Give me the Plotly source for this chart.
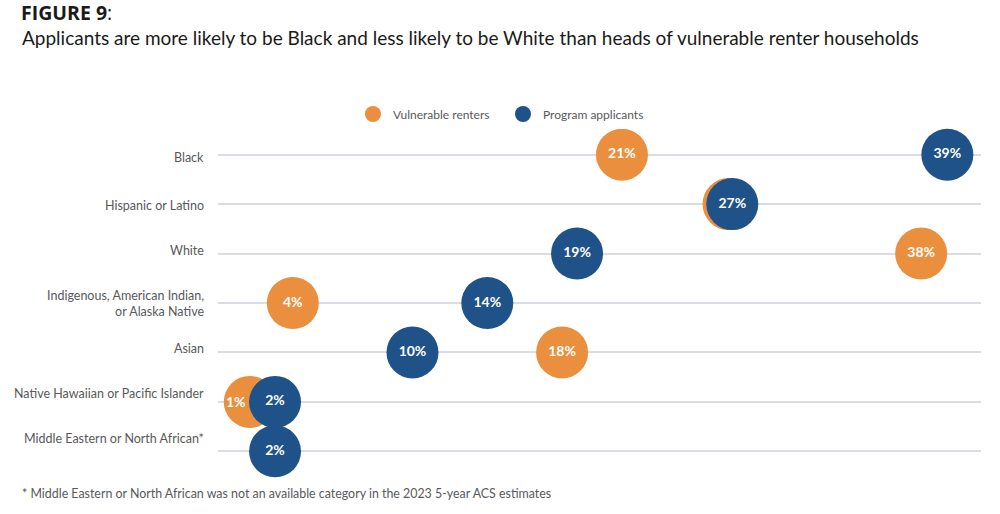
import plotly.graph_objects as go

# categories, top to bottom
categories = ["Black", "Hispanic or Latino", "White",
              "Indigenous, American Indian,<br>or Alaska Native", "Asian",
              "Native Hawaiian or Pacific Islander", "Middle Eastern or North African*"]

# values (position of each dot, in %)
renters = [21.6, 27.3, 37.6, 4.0, 18.4, 1.7, None]
applicants = [39.0, 27.5, 19.2, 14.4, 10.4, 3.05, 3.05]

# printed labels inside the dots
renters_text = ["21%", "27%", "38%", "4%", "18%", "1%", ""]
applicants_text = ["39%", "27%", "19%", "14%", "10%", "2%", "2%"]

ORANGE = "#E98F3D"
BLUE = "#1F5288"
GREY = "#58595B"
FONT = "Lato"

# nudge the row labels like in the original layout
label_shift = [-3, -1, 3, 0, 4, 8, 13]

rows = list(range(len(categories)))

# plot area in pixels (used to place the page texts)
L, R, T, B = 218, 19, 125, 33
PW, PH = 1000 - L - R, 514 - T - B


def px_x(x):
    return (x - L) / PW


def px_y(y):
    return (514 - B - y) / PH


fig = go.Figure()

# hidden labels: 27% sits under the blue dot, 1% is drawn as an annotation
r_text_in = [t if i not in (1, 5) else "" for i, t in enumerate(renters_text)]

fig.add_trace(go.Scatter(
    x=renters, y=rows, mode="markers+text", name="Vulnerable renters",
    marker=dict(color=ORANGE, size=52, line=dict(width=0)),
    text=r_text_in, textposition="middle center",
    textfont=dict(family=FONT, size=14, color="white", weight="bold"),
    hoverinfo="skip"))

fig.add_trace(go.Scatter(
    x=applicants, y=rows, mode="markers+text", name="Program applicants",
    marker=dict(color=BLUE, size=52, line=dict(width=0)),
    text=applicants_text, textposition="middle center",
    textfont=dict(family=FONT, size=14, color="white", weight="bold"),
    hoverinfo="skip"))

annotations = []
for i, cat in enumerate(categories):
    annotations.append(dict(
        x=0, xref="paper", y=i, yref="y", text=cat, showarrow=False,
        xanchor="right", yanchor="middle", align="right", xshift=-12,
        yshift=label_shift[i], font=dict(family=FONT, size=12.5, color=GREY)))

# "1%" peeking out from behind the blue dot
annotations.append(dict(
    x=renters[5], y=5, xref="x", yref="y", text="<b>" + renters_text[5] + "</b>",
    showarrow=False, xshift=-14, font=dict(family=FONT, size=14, color="white")))

annotations.append(dict(
    x=px_x(19), xref="paper", y=px_y(12), yref="paper",
    xanchor="left", yanchor="middle", showarrow=False, align="left",
    text="<b>FIGURE 9</b>:", font=dict(family="Open Sans", size=19.5, color="#1A1A1A")))
annotations.append(dict(
    x=px_x(20), xref="paper", y=px_y(38), yref="paper",
    xanchor="left", yanchor="middle", showarrow=False, align="left",
    text="Applicants are more likely to be Black and less likely to be White than heads of vulnerable renter households",
    font=dict(family=FONT, size=19, color="#1A1A1A")))
annotations.append(dict(
    x=px_x(20), xref="paper", y=px_y(493), yref="paper",
    xanchor="left", yanchor="middle", showarrow=False, align="left",
    text="* Middle Eastern or North African was not an available category in the 2023 5-year ACS estimates",
    font=dict(family=FONT, size=12.4, color=GREY)))

fig.update_layout(
    width=1000, height=514,
    margin=dict(l=L, r=R, t=T, b=B, autoexpand=False),
    paper_bgcolor="white", plot_bgcolor="white",
    font=dict(family=FONT, color=GREY),
    showlegend=True,
    legend=dict(orientation="h", x=px_x(353), y=px_y(114),
                xanchor="left", yanchor="middle", itemsizing="trace",
                entrywidth=105, entrywidthmode="pixels",
                font=dict(family=FONT, size=12, color=GREY)),
    xaxis=dict(range=[0, 40.8], showgrid=False, zeroline=False,
               showticklabels=False, showline=False, fixedrange=True),
    yaxis=dict(range=[6.6, -0.6], tickvals=rows, showticklabels=False,
               showgrid=True, gridcolor="#D9DDE3", gridwidth=2,
               zeroline=False, showline=False, fixedrange=True),
    annotations=annotations,
)

# the page has a default body margin; drop it so the figure sits at 0,0
fig.write_html("out.html", config={"displayModeBar": False},
               post_script="document.body.style.margin='0';")
